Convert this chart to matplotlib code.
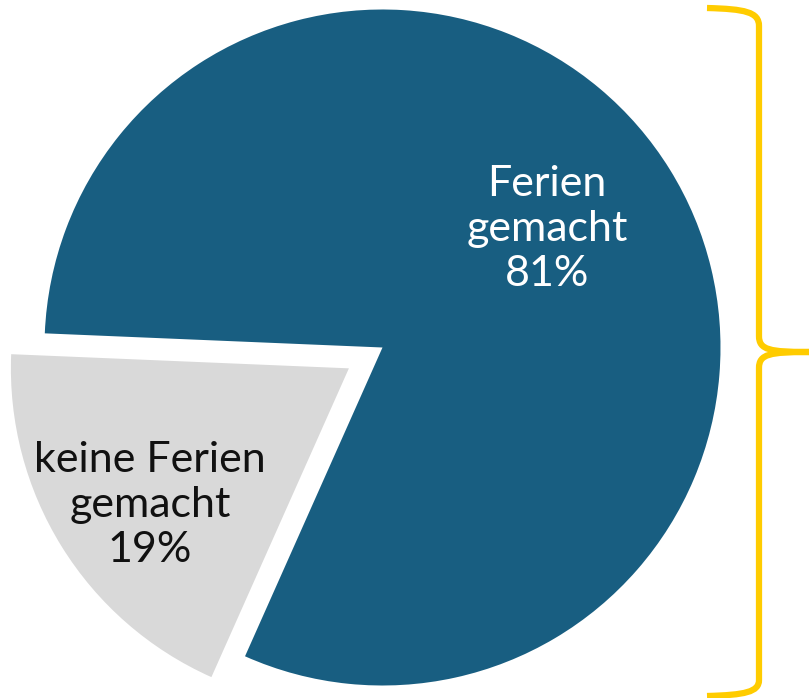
import matplotlib
matplotlib.use("Agg")
import matplotlib.pyplot as plt
from matplotlib.path import Path
from matplotlib.patches import PathPatch

# data
categories = ["Ferien\ngemacht", "keine Ferien\ngemacht"]
values = [81, 19]
colors = ["#185E81", "#D9D9D9"]
text_colors = ["white", "#111111"]

W, H = 809, 698
fig = plt.figure(figsize=(W / 100, H / 100), dpi=100)
ax = fig.add_axes([0, 0, 1, 1])

R = 338.0
cx, cy = 382.5, 347.5  # pixel centre (from top)
wedges, _ = ax.pie(values, colors=colors, startangle=246, counterclock=True,
                   explode=[0, 0.117], radius=1.0,
                   wedgeprops=dict(linewidth=0))
ax.set_xlim(-cx / R, (W - cx) / R)
ax.set_ylim(-(H - cy) / R, cy / R)
ax.set_aspect('auto')
ax.axis('off')

font = dict(family=['Lato', 'DejaVu Sans'], weight='normal', fontsize=31,
            ha='center', va='center', linespacing=1.22)
label_pos = [(547, 229), (150, 505)]
for cat, v, (px, py), tc in zip(categories, values, label_pos, text_colors):
    fig.text(px / W, 1 - py / H, f"{cat}\n{v}%", color=tc, **font)

# brace (pixel coords -> figure fraction)
def P(x, y):
    return (x / W, 1 - y / H)

verts = [P(707, 8), P(745, 9), P(759, 12), P(759, 26),
         P(759, 336),
         P(759, 350), P(770, 352), P(809, 352),
         P(770, 352), P(759, 354), P(759, 368),
         P(759, 680),
         P(759, 692), P(745, 695), P(707, 696)]
codes = [Path.MOVETO, Path.CURVE4, Path.CURVE4, Path.CURVE4,
         Path.LINETO,
         Path.CURVE4, Path.CURVE4, Path.CURVE4,
         Path.CURVE4, Path.CURVE4, Path.CURVE4,
         Path.LINETO,
         Path.CURVE4, Path.CURVE4, Path.CURVE4]
brace = PathPatch(Path(verts, codes), transform=fig.transFigure,
                  facecolor='none', edgecolor='#FFCC00', linewidth=4.5,
                  capstyle='butt', joinstyle='round')
fig.patches.append(brace)

fig.savefig("out.png", dpi=100)
